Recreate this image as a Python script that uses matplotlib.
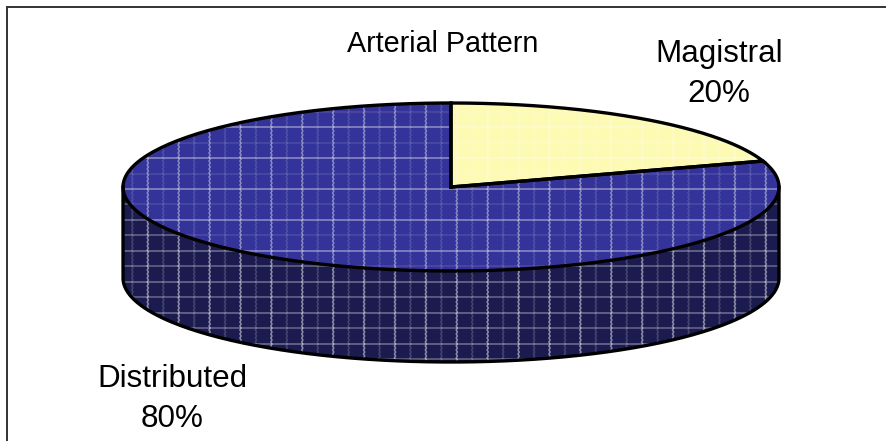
import numpy as np
import matplotlib
matplotlib.use('Agg')
import matplotlib.pyplot as plt
from matplotlib.patches import PathPatch
from matplotlib.path import Path

plt.rcParams['font.family'] = ['Liberation Sans', 'DejaVu Sans']

title = 'Arterial Pattern'
categories = ['Magistral', 'Distributed']
values = [20, 80]
colors = ['#fdfab4', '#333399']
side_color = '#1b1b50'

cx, cy, rx, ry = 451, 187, 328, 84
depth = 91


def ell(t0, t1, dy=0, n=200):
    # t in degrees, counter-clockwise from the right, y axis points down
    t = np.radians(np.linspace(t0, t1, n))
    return np.column_stack([cx + rx * np.cos(t), cy + dy - ry * np.sin(t)])


def closed(pts):
    return Path(np.vstack([pts, pts[:1]]))


def grid(ax, clip, x0, x1, y0, y1, h_major, h_minor, v_major, v_minor):
    # woven pattern, major lines every 31 px with a fainter one between
    step = 15.45
    for i in range(-20, 20):
        y = 189 + i * step
        if y0 <= y <= y1:
            a = h_major if i % 2 == 0 else h_minor
            ln, = ax.plot([x0, x1], [y, y], color='white', alpha=a, lw=1.1, zorder=2)
            ln.set_clip_path(clip)
    for i in range(-30, 30):
        x = 395 + i * step
        if x0 <= x <= x1:
            a = v_major if i % 2 == 0 else v_minor
            yy = np.arange(y0, y1, 2.0)
            xx = x + 0.6 * (-1.0) ** np.arange(len(yy))
            ln, = ax.plot(xx, yy, color='white', alpha=a, lw=1.1, zorder=2)
            ln.set_clip_path(clip)


fig = plt.figure(figsize=(8.87, 4.41), dpi=100)
ax = fig.add_axes([0, 0, 1, 1])
ax.set_xlim(0, 887)
ax.set_ylim(441, 0)
ax.axis('off')

# only the top and left of the chart border are in the frame
ax.plot([887, 7, 7], [6.5, 6.5, 441], color='#333333', lw=1.4, solid_joinstyle='miter')

# side wall
front = ell(180, 360, depth)
rim = ell(360, 180)
wall = PathPatch(closed(np.vstack([front, rim])), fc=side_color, ec='none', zorder=1)
ax.add_patch(wall)
grid(ax, wall, 100, 800, 180, 370, 0.38, 0.34, 0.5, 0.18)

# top slices, clockwise from 12 o'clock
start = 90
for name, v, c in zip(categories, values, colors):
    end = start - 360 * v / sum(values)
    pts = np.vstack([[[cx, cy]], ell(start, end)])
    wedge = PathPatch(closed(pts), fc=c, ec='none', zorder=1.5)
    ax.add_patch(wedge)
    if name == 'Magistral':
        grid(ax, wedge, 440, 780, 95, 200, 0.3, 0.18, 0.3, 0.18)
    else:
        grid(ax, wedge, 110, 790, 95, 280, 0.45, 0.12, 0.42, 0.14)
    # slice outline
    ax.plot(pts[:, 0].tolist() + [cx], pts[:, 1].tolist() + [cy], color='black',
            lw=2.4, solid_joinstyle='miter', zorder=3)
    start = end

# wall outline
out = np.vstack([[[cx - rx, cy]], front, [[cx + rx, cy]]])
ax.plot(out[:, 0], out[:, 1], color='black', lw=2.4, zorder=3)

ax.text(443, 52, title, fontsize=20.7, ha='center', va='baseline', color='black')
ax.text(719, 62, categories[0], fontsize=22.6, ha='center', va='baseline', color='black')
ax.text(719, 102, f'{values[0]}%', fontsize=22.6, ha='center', va='baseline', color='black')
ax.text(172, 387, categories[1], fontsize=22.6, ha='center', va='baseline', color='black')
ax.text(172, 427, f'{values[1]}%', fontsize=22.6, ha='center', va='baseline', color='black')

fig.savefig('out.png', dpi=100)
plt.close(fig)
